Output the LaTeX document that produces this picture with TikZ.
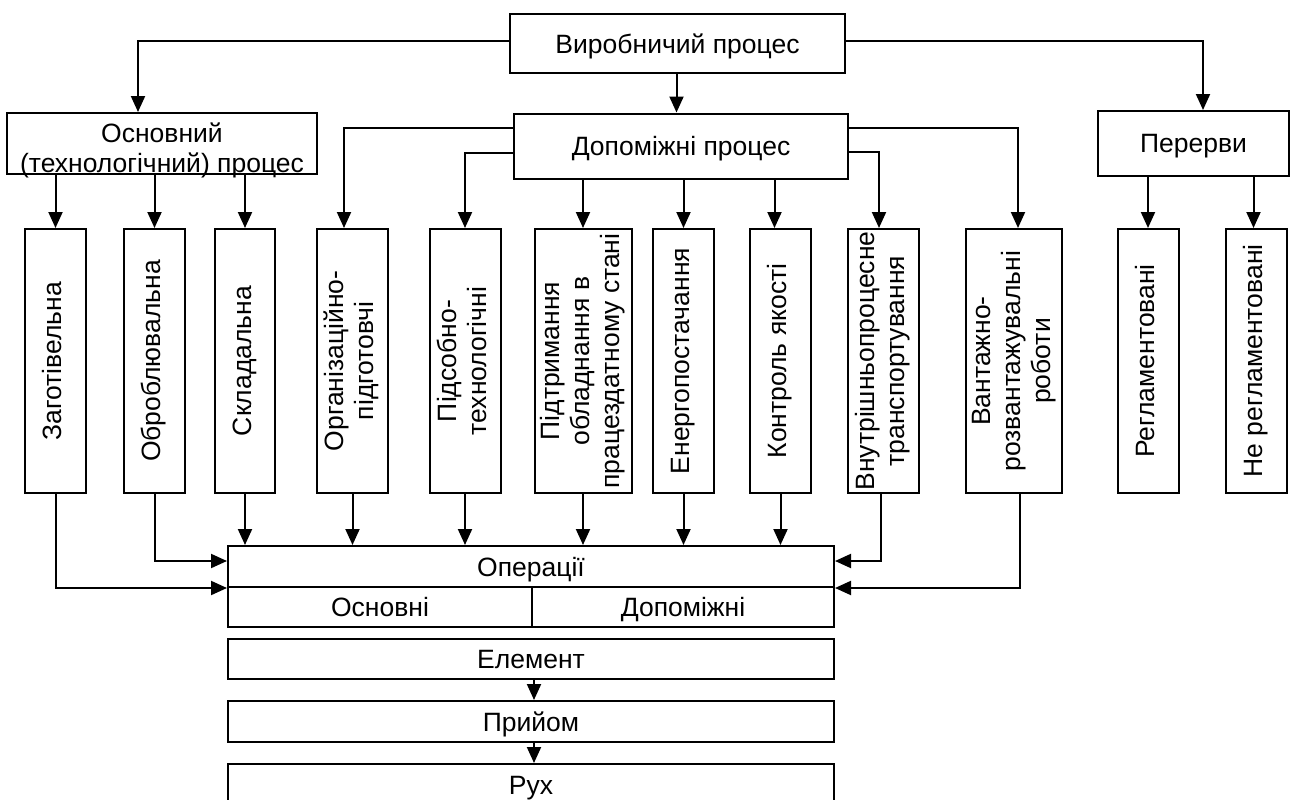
\documentclass[tikz,border=0pt]{standalone}
\usepackage{fontspec}
\setmainfont{Liberation Sans}
\usetikzlibrary{arrows.meta,calc}
% text set sideways, several centred lines
\newcommand{\turnedtext}[1]{\rotatebox{90}{\begin{tabular}{@{}c@{}}#1\end{tabular}}}

\begin{document}
\begin{tikzpicture}[x=1pt,y=-1pt,
  every node/.style={font=\fontsize{26.5}{30}\selectfont, inner sep=0pt},
  box/.style={draw, line width=2pt, text depth=0pt},
  vbox/.style={draw, line width=2pt, minimum height=264pt},
  link/.style={line width=2pt, -{Triangle[length=16pt,width=14pt]}},
]
\fill[white] (0,0) rectangle (1293,800);
\useasboundingbox (0,0) rectangle (1293,800);

% top level
\node[box, minimum width=335pt, minimum height=59pt] (vyr) at (677.5,43.5) {Виробничий процес};

% second level
\node[draw, line width=2pt, minimum width=310pt, minimum height=61pt] (osn) at (162,143.5) {};
\node[align=center] (osnT) at (162,150) {Основний\\(технологічний) процес};
\node[box, minimum width=334pt, minimum height=65pt] (dop) at (681,146) {Допоміжні процес};
\node[box, minimum width=191pt, minimum height=65pt] (per) at (1193.5,143.5) {Перерви};

% kinds of processes
\node[vbox, minimum width=61pt] (zag)   at (55.5,361)  {\turnedtext{Заготівельна}};
\node[vbox, minimum width=61pt] (obr)   at (154.5,361) {\turnedtext{Оброблювальна}};
\node[vbox, minimum width=60pt] (skl)   at (245,361)   {\turnedtext{Складальна}};
\node[vbox, minimum width=71pt] (org)   at (352.5,361) {\turnedtext{Організаційно-\\підготовчі}};
\node[vbox, minimum width=71pt] (pid)   at (465,361)   {\turnedtext{Підсобно-\\технологічні}};
\node[vbox, minimum width=97pt] (pidtr) at (583,361)   {\turnedtext{Підтримання\\обладнання в\\працездатному стані}};
\node[vbox, minimum width=61pt] (ener)  at (683.5,361) {\turnedtext{Енергопостачання}};
\node[vbox, minimum width=61pt] (kontr) at (780.5,361) {\turnedtext{Контроль якості}};
\node[vbox, minimum width=71pt] (vnutr) at (883,361)   {\turnedtext{Внутрішньопроцесне\\транспортування}};
\node[vbox, minimum width=96pt] (vant)  at (1014,361)  {\turnedtext{Вантажно-\\розвантажувальні\\роботи}};
\node[vbox, minimum width=61pt] (regl)  at (1148,361)  {\turnedtext{Регламентовані}};
\node[vbox, minimum width=61pt] (nereg) at (1256.5,361){\turnedtext{Не регламентовані}};

% operations and their parts
\node[box, minimum width=606pt, minimum height=41pt] (op)   at (531,566.5) {Операції};
\node[box, minimum width=304pt, minimum height=40pt] (osnv) at (380,607)   {Основні};
\node[box, minimum width=302pt, minimum height=40pt] (dopv) at (683,607)   {Допоміжні};
\node[box, minimum width=606pt, minimum height=40pt] (elem) at (531,659)   {Елемент};
\node[box, minimum width=606pt, minimum height=41pt] (priy) at (531,721.5) {Прийом};
\node[box, minimum width=606pt, minimum height=42pt] (ruh)  at (531,785)   {Рух};

% from the production process
\draw[link] ([yshift=2.5pt]vyr.west) -| ([xshift=-24pt]osn.north);
\draw[link] ([yshift=2.5pt]vyr.east) -| ([xshift=9.5pt]per.north);
\draw[link] ($(vyr.south)+(-1,0)$) -- ($(vyr.south |- dop.north)+(-1,0)$);

% main process branches
\draw[link] (osn.south -| zag.north) -- (zag.north);
\draw[link] (osn.south -| obr.north) -- (obr.north);
\draw[link] (osn.south -| skl.north) -- (skl.north);

% auxiliary process branches
\draw[link] ([yshift=18pt]dop.west) -| ([xshift=-8.5pt]org.north);
\draw[link] ([yshift=-7pt]dop.west) -| (pid.north);
\draw[link] (dop.south -| pidtr.north) -- (pidtr.north);
\draw[link] (dop.south -| ener.north) -- (ener.north);
\draw[link] ($(dop.south -| kontr.north)+(-6,0)$) -- ($(kontr.north)+(-6,0)$);
\draw[link] ([yshift=-6pt]dop.east) -| ([xshift=-4pt]vnutr.north);
\draw[link] ([yshift=18pt]dop.east) -| ([xshift=4pt]vant.north);

% breaks
\draw[link] (per.south -| regl.north) -- (regl.north);
\draw[link] ($(per.south -| nereg.north)+(-3,0)$) -- ($(nereg.north)+(-3,0)$);

% into the operations
\draw[link] (zag.south) |- (op.south west);
\draw[link] (obr.south) |- ([yshift=5.5pt]op.west);
\draw[link] (skl.south) -- (skl.south |- op.north);
\draw[link] (org.south) -- (org.south |- op.north);
\draw[link] (pid.south) -- (pid.south |- op.north);
\draw[link] (pidtr.south) -- (pidtr.south |- op.north);
\draw[link] (ener.south) -- (ener.south |- op.north);
\draw[link] (kontr.south) -- (kontr.south |- op.north);
\draw[link] ([xshift=-2pt]vnutr.south) |- ([yshift=5.5pt]op.east);
\draw[link] ([xshift=6pt]vant.south) |- (op.south east);

% down the chain
\draw[link] ($(elem.south)+(3,0)$) -- ($(priy.north)+(3,0)$);
\draw[link] ($(priy.south)+(3,0)$) -- ($(ruh.north)+(3,0)$);
\end{tikzpicture}
\end{document}
